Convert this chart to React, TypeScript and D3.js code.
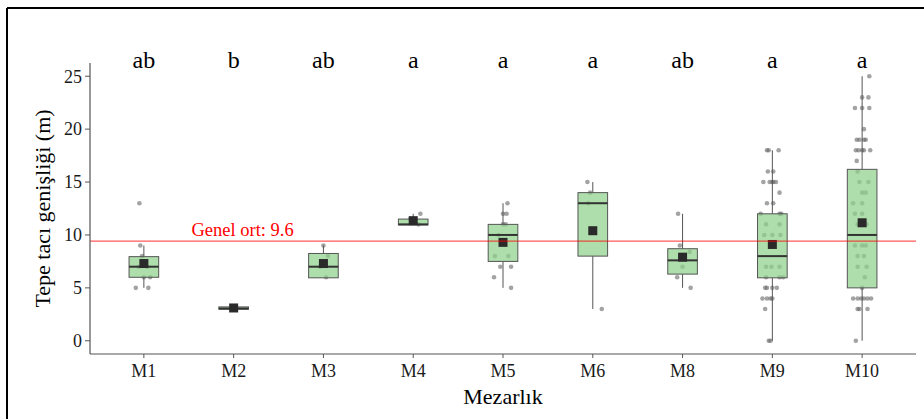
import React from "react";
import * as d3 from "d3";

const categories = ["M1", "M2", "M3", "M4", "M5", "M6", "M8", "M9", "M10"];
const groupLetters = ["ab", "b", "ab", "a", "a", "a", "ab", "a", "a"];
const q1 = [6, 2.98, 5.95, 10.95, 7.5, 8, 6.3, 5.95, 5];
const medians = [7, 3.05, 7, 11, 10, 13, 7.6, 8, 10];
const q3 = [7.95, 3.2, 8.25, 11.5, 11, 14, 8.7, 12, 16.2];
const whiskerLow = [5, 2.98, 5.95, 10.95, 5, 3, 5, 0, 0];
const whiskerHigh = [9, 3.2, 9, 12, 13, 15, 12, 18, 25];
const means = [7.3, 3.1, 7.3, 11.35, 9.3, 10.4, 7.9, 9.1, 11.15];
const yTicks = [0, 5, 10, 15, 20, 25];
const grandMean = 9.42;
const grandMeanLabel = "Genel ort: 9.6";
const grandMeanLabelPos = 1.1; // in category steps after the first category
const letterY = 25.8;
const yTitle = "Tepe tacı genişliği (m)";
const xTitle = "Mezarlık";

// raw observations: [value, jitter (fraction of category step)]
const ptsM1: [number, number][] = [[13, -0.05], [9, -0.04], [8, -0.02], [7, 0.04], [7, -0.06], [6, 0.07], [6, 0.0], [5, -0.09], [5, 0.05]];
const ptsM2: [number, number][] = [[3, 0.0], [3.1, 0.03]];
const ptsM3: [number, number][] = [[9, 0.0], [8, 0.05], [7, -0.04], [6, 0.03]];
const ptsM4: [number, number][] = [[12, 0.08], [11.5, -0.03], [11, 0.06]];
const ptsM5: [number, number][] = [[13, 0.05], [12, 0.0], [12, 0.04], [11, 0.0], [11, 0.03], [10, -0.05], [8, -0.09], [8, 0.06], [7, -0.03], [7, 0.09], [6, -0.1], [5, 0.09]];
const ptsM6: [number, number][] = [[15, -0.06], [14, -0.03], [13, -0.05], [3, 0.1]];
const ptsM8: [number, number][] = [[12, -0.05], [9, -0.03], [8.4, 0.08], [7, 0.0], [6, -0.06], [5, 0.09]];
const ptsM9: [number, number][] = [
  [18, -0.06], [18, -0.04], [18, 0.07],
  [16, -0.05], [16, 0.01],
  [15, -0.1], [15, -0.03], [15, 0.0], [15, 0.01], [15, 0.04],
  [14, 0.08],
  [13, -0.06], [13, 0.01],
  [12, -0.13], [12, 0.08], [12, 0.1],
  [11, -0.07], [11, 0.08],
  [10, -0.09], [10, 0.0], [10, 0.09],
  [7, -0.07], [7, -0.01], [7, 0.08],
  [6, -0.07], [6, 0.08], [6, 0.12],
  [5, -0.08], [5, -0.06], [5, 0.0], [5, 0.05],
  [4, -0.11], [4, -0.06], [4, -0.02], [4, 0.0],
  [3, -0.08],
  [0, -0.04], [0, -0.02],
];
const ptsM10: [number, number][] = [
  [25, 0.08],
  [23, 0.0], [23, 0.07],
  [22, -0.08], [22, 0.0], [22, 0.08],
  [20, 0.02],
  [19, -0.06], [19, -0.03], [19, 0.02], [19, 0.04],
  [18, -0.07], [18, -0.04], [18, 0.0], [18, 0.02], [18, 0.09],
  [17, -0.06],
  [16, -0.05],
  [15, -0.03], [15, 0.07],
  [14, 0.0], [14, 0.04],
  [13, -0.1], [13, 0.0],
  [12, -0.08], [12, 0.0],
  [11, -0.05], [11, 0.05],
  [9, -0.08], [9, 0.0], [9, 0.04],
  [8, -0.05], [8, 0.02],
  [7, -0.05], [7, 0.05],
  [6, 0.03],
  [5, 0.0],
  [4, -0.1], [4, -0.05], [4, -0.01], [4, 0.02], [4, 0.06], [4, 0.1],
  [3, -0.05], [3, -0.03], [3, 0.06],
  [0, -0.07],
];
const points = [ptsM1, ptsM2, ptsM3, ptsM4, ptsM5, ptsM6, ptsM8, ptsM9, ptsM10];

const W = 924;
const H = 419;
const plotLeft = 90;
const plotRight = 916;
const plotTop = 63;
const plotBottom = 354;
const FONT = "'Liberation Serif', 'DejaVu Serif', serif";

export default function App() {
  const x = d3.scalePoint<string>().domain(categories).range([plotLeft, plotRight]).padding(0.6);
  const step = x.step();
  const y = d3.scaleLinear().domain([-1.25, 26.25]).range([plotBottom, plotTop]);
  const boxW = step * 0.33;
  const sq = 9;

  return (
    <svg width={W} height={H} style={{ position: "absolute", left: 0, top: 0, background: "#fff" }} fontFamily={FONT}>
      <rect x={0} y={0} width={W} height={H} fill="#fff" />
      {/* frame */}
      <line x1={7} y1={8} x2={W} y2={8} stroke="#000" strokeWidth={2} />
      <line x1={7} y1={8} x2={7} y2={H} stroke="#000" strokeWidth={2} />

      {/* points */}
      <g>
        {categories.map((c, i) =>
          points[i].map((p, j) => (
            <circle key={c + j} cx={(x(c) as number) + p[1] * step} cy={y(p[0])} r={2.3} fill="#666" fillOpacity={0.6} />
          ))
        )}
      </g>

      {/* whiskers and boxes */}
      {categories.map((c, i) => {
        const cx = x(c) as number;
        return (
          <g key={c}>
            <line x1={cx} x2={cx} y1={y(whiskerHigh[i])} y2={y(q3[i])} stroke="#555" strokeWidth={1} />
            <line x1={cx} x2={cx} y1={y(q1[i])} y2={y(whiskerLow[i])} stroke="#555" strokeWidth={1} />
            <rect x={cx - boxW / 2} width={boxW} y={y(q3[i])} height={Math.max(1, y(q1[i]) - y(q3[i]))} fill="#8fd18a" fillOpacity={0.72} stroke="#555" strokeWidth={1} />
            <line x1={cx - boxW / 2} x2={cx + boxW / 2} y1={y(medians[i])} y2={y(medians[i])} stroke="#333" strokeWidth={2} />
            <rect x={cx - sq / 2} y={y(means[i]) - sq / 2} width={sq} height={sq} fill="#2a2a2a" />
          </g>
        );
      })}

      {/* grand mean */}
      <line x1={plotLeft} x2={plotRight} y1={y(grandMean)} y2={y(grandMean)} stroke="#ff0000" strokeOpacity={0.65} strokeWidth={1.1} />
      <text x={(x(categories[0]) as number) + grandMeanLabelPos * step} y={y(grandMean) - 5} textAnchor="middle" fontSize={18.5} fill="#ff0000">
        {grandMeanLabel}
      </text>

      {/* letters */}
      {categories.map((c, i) => (
        <text key={"l" + c} x={x(c) as number} y={y(letterY)} textAnchor="middle" fontSize={24} fill="#000">
          {groupLetters[i]}
        </text>
      ))}

      {/* axes */}
      <line x1={plotLeft} x2={plotLeft} y1={plotTop} y2={plotBottom} stroke="#555" strokeWidth={1.2} />
      <line x1={plotLeft} x2={plotRight} y1={plotBottom} y2={plotBottom} stroke="#555" strokeWidth={1.2} />
      {yTicks.map((t) => (
        <g key={"y" + t}>
          <line x1={plotLeft - 5} x2={plotLeft} y1={y(t)} y2={y(t)} stroke="#555" strokeWidth={1} />
          <text x={plotLeft - 8} y={y(t)} dy="0.35em" textAnchor="end" fontSize={18} fill="#1a1a1a">
            {t}
          </text>
        </g>
      ))}
      {categories.map((c) => (
        <g key={"x" + c}>
          <line x1={x(c) as number} x2={x(c) as number} y1={plotBottom} y2={plotBottom + 4} stroke="#555" strokeWidth={1} />
          <text x={x(c) as number} y={plotBottom + 23} textAnchor="middle" fontSize={18} fill="#1a1a1a">
            {c}
          </text>
        </g>
      ))}
      <text transform={`translate(49.5,${(plotTop + plotBottom) / 2}) rotate(-90)`} textAnchor="middle" fontSize={22} fill="#000">
        {yTitle}
      </text>
      <text x={(plotLeft + plotRight) / 2} y={404} textAnchor="middle" fontSize={22} fill="#000">
        {xTitle}
      </text>
    </svg>
  );
}
